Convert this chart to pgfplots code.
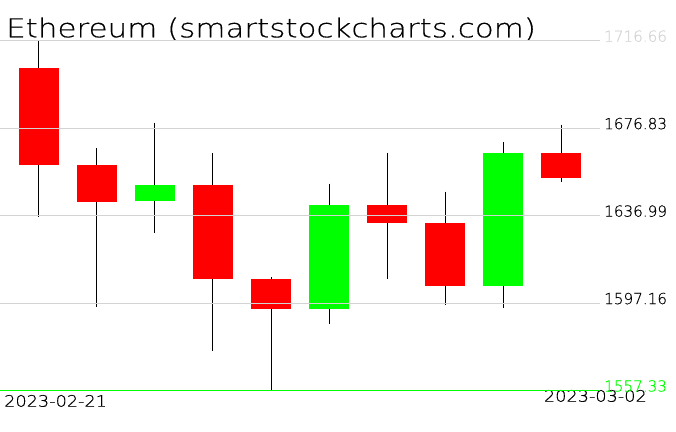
\documentclass[border=0pt]{standalone}
\usepackage{pgfplots}
\pgfplotsset{compat=1.18}
\usepackage{fontspec}
\newfontfamily\titlefont{DejaVu Sans ExtraLight}[FakeStretch=1.19, FakeBold=0.4]
\newfontfamily\datefont{DejaVu Sans ExtraLight}[FakeStretch=1.12, FakeBold=0.4]
\newfontfamily\labelfont{DejaVu Sans ExtraLight}[FakeBold=0.4]
\definecolor{cred}{RGB}{255,0,0}
\definecolor{cgreen}{RGB}{0,255,0}
\definecolor{cgrid}{RGB}{211,211,211}
\begin{document}
\begin{tikzpicture}
\useasboundingbox (0,0) rectangle (676pt,431pt);
\begin{axis}[
  at={(0pt,40.5pt)}, anchor=south west,
  scale only axis, width=600pt, height=349.8pt,
  xmin=-0.672, xmax=9.672,
  ymin=1557.33, ymax=1716.66,
  clip=false, axis on top,
  axis line style={draw=none}, tick style={draw=none},
  xtick=\empty,
  ytick={1597.16,1636.99,1676.83,1716.66},
  yticklabels={1597.16,1636.99,1676.83,\textcolor{cgrid}{1716.66}},
  extra y ticks={1557.33},
  extra y tick labels={\textcolor{cgreen}{1557.33}},
  extra y tick style={grid style={draw=cgreen, line width=1.4pt}},
  ymajorgrids, grid style={draw=cgrid, line width=1pt},
  yticklabel pos=right,
  yticklabel style={anchor=base west, inner sep=0pt, xshift=4pt, yshift=-1pt,
    font=\labelfont\fontsize{15.2}{16}\selectfont},
  unbounded coords=jump,
]
% wicks (high-low)
\addplot[black, line width=1pt] coordinates {
 (0,1716.66) (0,1636.4) (0,nan)
 (1,1667.6) (1,1595.2) (1,nan)
 (2,1679.3) (2,1629.0) (2,nan)
 (3,1665.3) (3,1575.4) (3,nan)
 (4,1609.1) (4,1557.33) (4,nan)
 (5,1651.6) (5,1587.8) (5,nan)
 (6,1665.7) (6,1607.9) (6,nan)
 (7,1647.9) (7,1596.4) (7,nan)
 (8,1670.3) (8,1595.1) (8,nan)
 (9,1678.4) (9,1652.2)
};
% falling bodies (open-close)
\addplot[cred, line width=40pt] coordinates {
 (0,1704.1) (0,1659.9) (0,nan)
 (1,1660.2) (1,1643.0) (1,nan)
 (3,1651.1) (3,1608.0) (3,nan)
 (4,1608.2) (4,1594.6) (4,nan)
 (6,1641.9) (6,1633.4) (6,nan)
 (7,1633.7) (7,1605.1) (7,nan)
 (9,1665.7) (9,1654.0)
};
% rising bodies (open-close)
\addplot[cgreen, line width=40pt] coordinates {
 (2,1643.5) (2,1651.1) (2,nan)
 (5,1594.6) (5,1641.9) (5,nan)
 (8,1605.1) (8,1665.7)
};
\node[anchor=base west, inner sep=0pt, xshift=6pt, yshift=3.4pt]
  at (rel axis cs:0,1) {\titlefont\fontsize{26}{28}\selectfont Ethereum (smartstockcharts.com)};
\node[anchor=base west, inner sep=0pt, xshift=4pt, yshift=-16.2pt]
  at (rel axis cs:0,0) {\datefont\fontsize{15.8}{17}\selectfont 2023-02-21};
\node[anchor=base east, inner sep=0pt, xshift=47pt, yshift=-11.2pt]
  at (rel axis cs:1,0) {\datefont\fontsize{15.8}{17}\selectfont 2023-03-02};
\end{axis}
\end{tikzpicture}
\end{document}
